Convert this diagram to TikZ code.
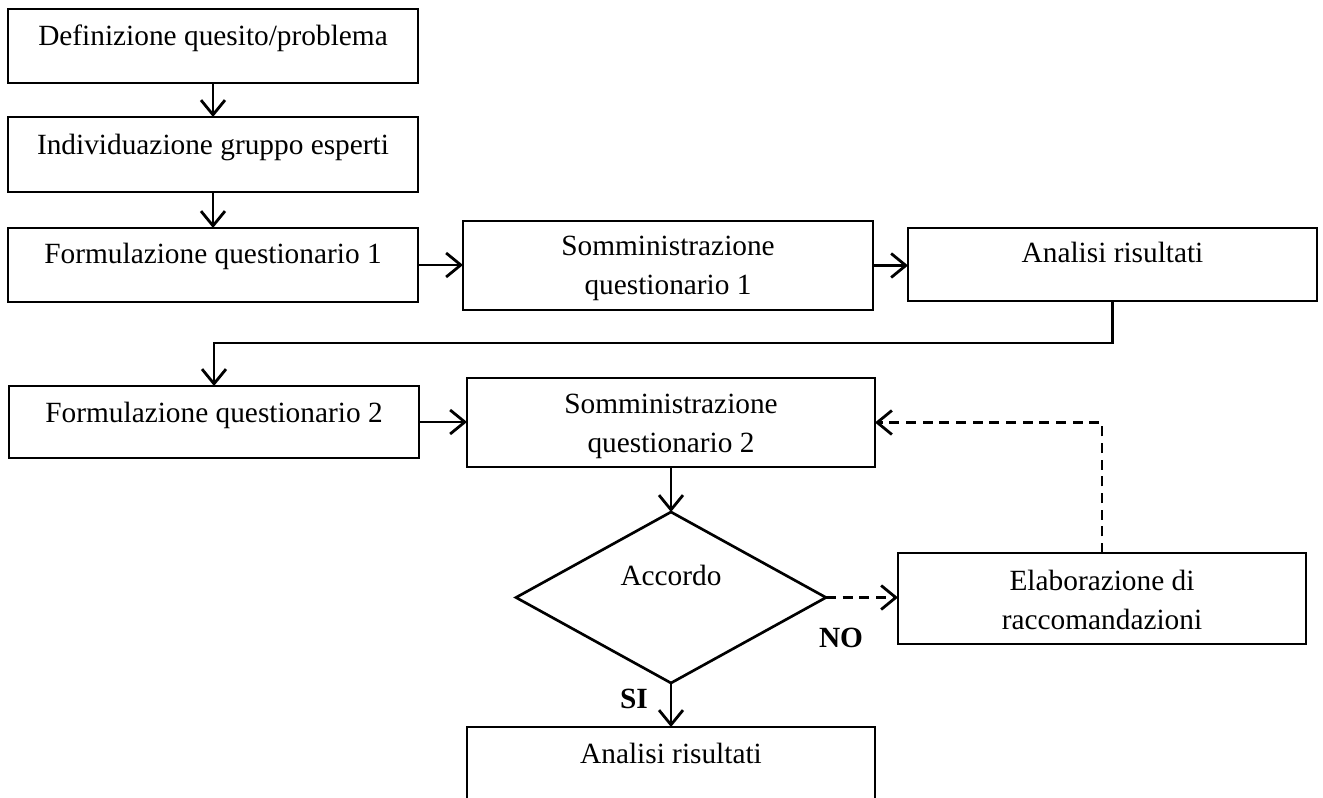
\documentclass[tikz,border=0pt]{standalone}
\usepackage{fontspec}
\setmainfont{Liberation Serif}
\usetikzlibrary{arrows.meta,shapes.geometric}

\begin{document}
\begin{tikzpicture}[x=0.75pt,y=-0.75pt,
  every node/.style={font=\fontsize{22}{26}\selectfont},
  stepbox/.style={draw, line width=1.1pt, inner sep=0pt, outer sep=0pt},
  txt/.style={anchor=base, inner sep=0pt},
  lbl/.style={anchor=base, inner sep=0pt, font=\fontsize{22}{26}\selectfont\bfseries},
  conn/.style={line width=2.1pt, -{Straight Barb[length=11pt,width=18pt]}},
  dconn/.style={conn, dash pattern=on 7.5pt off 5pt}]

\clip (0,0) rectangle (1323,798);

% boxes (centres in pixel units, sizes in pt)
\node[stepbox, minimum width=307.5pt, minimum height=55.5pt]  (def)  at (213,46)    {};
\node[stepbox, minimum width=307.5pt, minimum height=56.25pt] (ind)  at (213,154.5) {};
\node[stepbox, minimum width=307.5pt, minimum height=55.5pt]  (for1) at (213,265)   {};
\node[stepbox, minimum width=307.5pt, minimum height=66.75pt] (som1) at (668,265.5) {};
\node[stepbox, minimum width=306.75pt, minimum height=54.75pt] (an1) at (1112.5,264.5) {};
\node[stepbox, minimum width=307.5pt, minimum height=54pt]    (for2) at (214,422)   {};
\node[stepbox, minimum width=306pt,  minimum height=66.75pt]  (som2) at (671,422.5) {};
\node[draw, diamond, line width=2pt, inner sep=0pt, outer sep=0pt,
      minimum width=232.5pt, minimum height=128.25pt]         (acc)  at (671,597.5) {};
\node[stepbox, minimum width=306pt,  minimum height=68.25pt]  (ela)  at (1102,598.5) {};
\node[stepbox, minimum width=306pt,  minimum height=75pt]     (an2)  at (671,777)   {};

% texts
\node[txt] (tdef)  at (213,46)   {Definizione quesito/problema};
\node[txt] (tind)  at (213,155)  {Individuazione gruppo esperti};
\node[txt] (tfor1) at (213,264)  {Formulazione questionario 1};
\node[txt] (tsom1a) at (668,256) {Somministrazione};
\node[txt] (tsom1b) at (668,295) {questionario 1};
\node[txt] (tan1)  at (1112.5,263) {Analisi risultati};
\node[txt] (tfor2) at (214,422)  {Formulazione questionario 2};
\node[txt] (tsom2a) at (671,413) {Somministrazione};
\node[txt] (tsom2b) at (671,452) {questionario 2};
\node[txt] (tacc)  at (671,585)  {Accordo};
\node[txt] (tela1) at (1102,590) {Elaborazione di};
\node[txt] (tela2) at (1102,629) {raccomandazioni};
\node[txt] (tan2)  at (671,763)  {Analisi risultati};
\node[lbl] (no)    at (841,647)  {NO};
\node[lbl] (si)    at (634,708)  {SI};

% connectors
\draw[conn] (def.south) -- (ind.north);
\draw[conn] (ind.south) -- (for1.north);
\draw[conn] (for1.east) -- (for1.east -| som1.west);
\draw[conn] (som1.east) -- (som1.east -| an1.west);
\draw[conn] (an1.south) -- ++(0,42) -| (for2.north);
\draw[conn] (for2.east) -- (for2.east -| som2.west);
\draw[conn] (som2.south) -- (acc.north);
\draw[conn] (acc.south) -- (an2.north);
\draw[dconn] (acc.east) -- (acc.east -| ela.west);
\draw[dconn] (ela.north) -- (ela.north |- som2.east) -- (som2.east);
\end{tikzpicture}
\end{document}
